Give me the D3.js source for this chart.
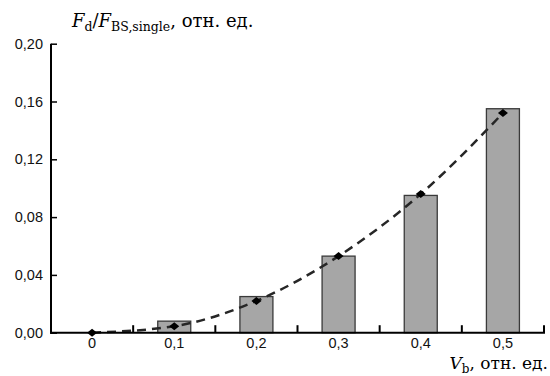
<!DOCTYPE html>
<html><head><meta charset="utf-8">
<script src="https://cdn.jsdelivr.net/npm/d3@7"></script>
<style>body{margin:0;background:#fff}svg{display:block}</style>
</head><body>
<svg id="c" width="550" height="376"></svg>
<script>
const categories = ["0", "0,1", "0,2", "0,3", "0,4", "0,5"];
const barValues = [0, 0.008, 0.025, 0.053, 0.095, 0.155];
const pointValues = [0, 0.0045, 0.022, 0.053, 0.096, 0.152];
const yTicks = [0, 0.04, 0.08, 0.12, 0.16, 0.20];
const yTickLabels = ["0,00", "0,04", "0,08", "0,12", "0,16", "0,20"];

const svg = d3.select("#c");
const xb = d3.scaleBand().domain(categories).range([51, 544]);
const y = d3.scaleLinear().domain([0, 0.2]).range([332.7, 43.7]);
const cx = c => xb(c) + xb.bandwidth()/2;

// bars
svg.selectAll("rect.bar").data(categories.slice(1)).enter().append("rect")
  .attr("x", d => cx(d) - 16.5)
  .attr("width", 33)
  .attr("y", (d,i) => y(barValues[i+1]))
  .attr("height", (d,i) => y(0) - y(barValues[i+1]))
  .attr("fill", "#a6a6a6").attr("stroke", "#3a3a3a").attr("stroke-width", 1.3);

// dashed curve
const line = d3.line().x((d,i) => cx(categories[i])).y(d => y(d)).curve(d3.curveMonotoneX);
svg.append("path").datum(pointValues).attr("d", line)
  .attr("fill", "none").attr("stroke", "#262626").attr("stroke-width", 2.5)
  .attr("stroke-dasharray", "9,6");

// diamonds
svg.selectAll("path.pt").data(pointValues).enter().append("path")
  .attr("transform", (d,i) => `translate(${cx(categories[i])},${y(d)})`)
  .attr("d", "M-5,0L0,-4L5,0L0,4Z").attr("fill", "#000");

// y axis
const yAxis = d3.axisRight(y).tickValues(yTicks).tickSize(6).tickFormat("");
const gy = svg.append("g").attr("transform", "translate(51,0)").call(yAxis);
gy.select(".domain").remove();
gy.selectAll("line").attr("stroke", "#000").attr("stroke-width", 1.5);
svg.append("line").attr("x1", 51).attr("x2", 51).attr("y1", y(0.2)).attr("y2", y(0)+1)
  .attr("stroke", "#000").attr("stroke-width", 2);
svg.selectAll("text.yl").data(yTicks).enter().append("text")
  .attr("x", 43).attr("y", d => y(d)).attr("dy", "0.35em").attr("text-anchor", "end")
  .attr("font-family", "'Liberation Sans', Arial, sans-serif").attr("font-size", 14.5)
  .attr("fill", "#111").text((d,i) => yTickLabels[i]);

// x axis
svg.append("line").attr("x1", 50).attr("x2", 545).attr("y1", y(0)).attr("y2", y(0))
  .attr("stroke", "#000").attr("stroke-width", 2);
const bounds = categories.slice(1).map(c => xb(c)).concat([544]);
svg.selectAll("line.xt").data(bounds).enter().append("line")
  .attr("x1", d => d).attr("x2", d => d).attr("y1", y(0)).attr("y2", y(0) - 7.5)
  .attr("stroke", "#000").attr("stroke-width", 2);
svg.selectAll("text.xl").data(categories).enter().append("text")
  .attr("x", d => cx(d)).attr("y", 348).attr("text-anchor", "middle")
  .attr("font-family", "'Liberation Sans', Arial, sans-serif").attr("font-size", 14.5)
  .attr("fill", "#111").text(d => d);

// axis titles
const serif = "'DejaVu Serif', 'Liberation Serif', serif";
const yt = svg.append("text").attr("x", 72).attr("y", 27).attr("font-family", serif)
  .attr("font-size", 18).attr("fill", "#000");
yt.append("tspan").attr("font-style", "italic").text("F");
yt.append("tspan").attr("font-size", 12.5).attr("dy", 4).text("d");
yt.append("tspan").attr("dy", -4).text("/");
yt.append("tspan").attr("font-style", "italic").text("F");
yt.append("tspan").attr("font-size", 12.5).attr("dy", 4).text("BS,single");
yt.append("tspan").attr("dy", -4).text(", отн. ед.");

const xt = svg.append("text").attr("x", 548).attr("y", 369).attr("text-anchor", "end")
  .attr("font-family", serif).attr("font-size", 17).attr("fill", "#000");
xt.append("tspan").attr("font-style", "italic").text("V");
xt.append("tspan").attr("font-size", 12).attr("dy", 4).text("b");
xt.append("tspan").attr("dy", -4).text(", отн. ед.");
</script>
</body></html>
